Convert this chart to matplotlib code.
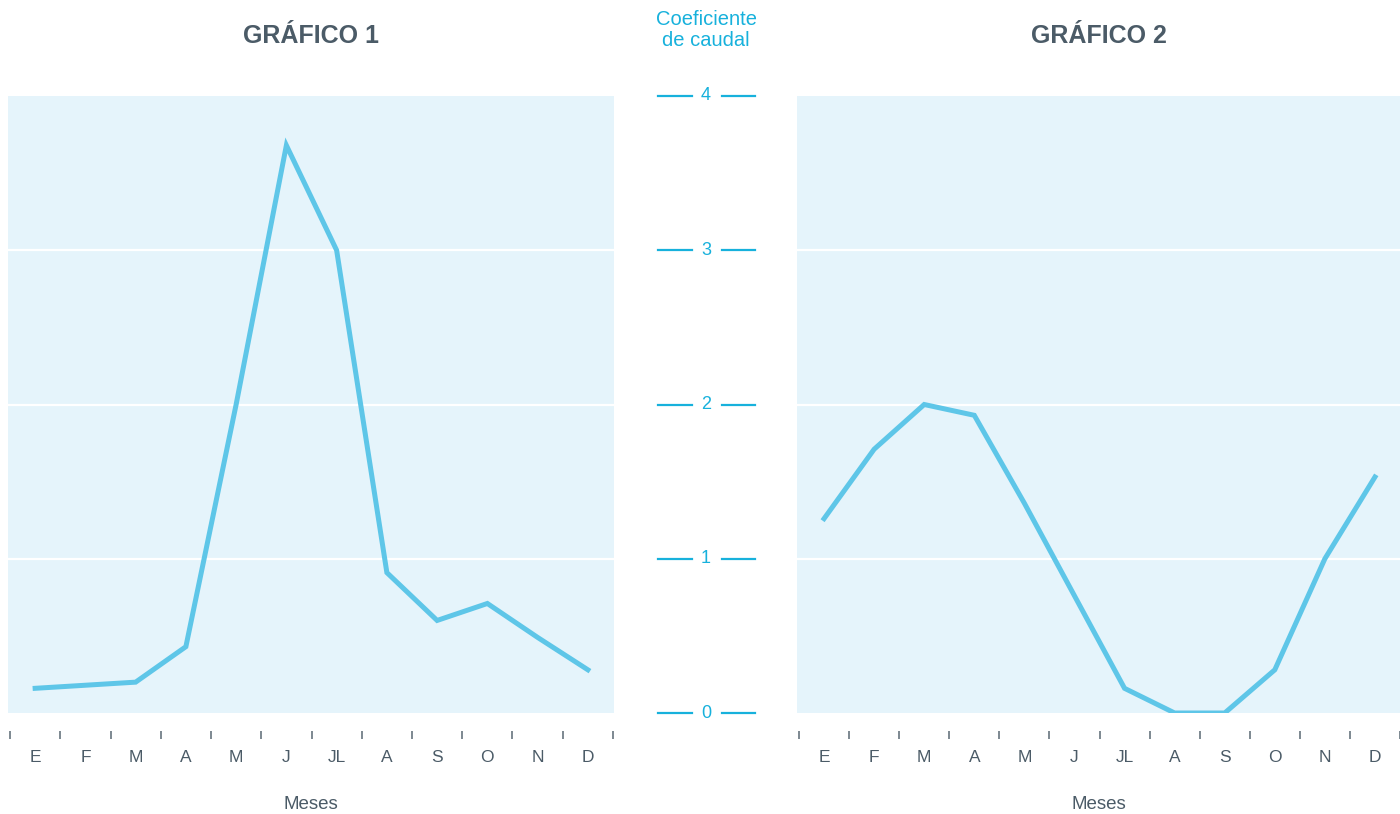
import matplotlib.pyplot as plt
import numpy as np

plt.rcParams['font.family'] = ['Liberation Sans', 'DejaVu Sans']

# datos
meses = ['E', 'F', 'M', 'A', 'M', 'J', 'JL', 'A', 'S', 'O', 'N', 'D']
graf1 = [0.16, 0.18, 0.20, 0.43, 2.0, 3.68, 3.0, 0.91, 0.60, 0.71, 0.49, 0.28]
graf2 = [1.26, 1.71, 2.0, 1.93, 1.36, 0.76, 0.16, 0.0, 0.0, 0.28, 1.0, 1.53]
escala = [0, 1, 2, 3, 4]

fondo = '#e5f4fb'
linea = '#5ec6e8'
cian = '#17b1dc'
gris = '#4b5b67'

fig = plt.figure(figsize=(14, 8.14), dpi=100)

def panel(rect, valores, titulo, xlim):
    ax = fig.add_axes(rect)
    ax.set_facecolor(fondo)
    x = np.arange(len(meses))
    ax.plot(x, valores, color=linea, lw=3.6, solid_joinstyle='miter', zorder=3)
    for v in escala[1:-1]:
        ax.axhline(v, color='white', lw=1.6, zorder=1)
    ax.set_xlim(*xlim)
    ax.set_ylim(0, 4)
    for s in ['top', 'right', 'left']:
        ax.spines[s].set_visible(False)
    ax.spines['bottom'].set_position(('outward', 13))
    ax.spines['bottom'].set_visible(False)
    ax.set_yticks([])
    ax.set_xticks(np.arange(-0.5, 12, 1))
    ax.set_xticklabels([])
    ax.tick_params(axis='x', which='major', length=6, width=1.1, color='#5a6873', direction='out')
    ax.set_xticks(x, minor=True)
    ax.set_xticklabels(meses, minor=True)
    ax.tick_params(axis='x', which='minor', length=0, pad=14, labelsize=12.5, labelcolor=gris)
    ax.set_xlabel('Meses', fontsize=13.5, color=gris, labelpad=22)
    ax.set_title(titulo, fontsize=18, fontweight='bold', color=gris, pad=38.5)
    return ax

panel([8/1400, 1 - 713/814, 606/1400, 617/814], graf1, 'GRÁFICO 1', (-0.54, 11.52))
panel([797/1400, 1 - 713/814, 603/1400, 617/814], graf2, 'GRÁFICO 2', (-0.54, 11.46))

# eje central
axc = fig.add_axes([640/1400, 1 - 713/814, 130/1400, 617/814])
axc.set_xlim(640, 770)
axc.set_ylim(0, 4)
axc.axis('off')
for v in escala:
    axc.plot([658, 692], [v, v], color=cian, lw=1.6, clip_on=False)
    axc.plot([722, 755], [v, v], color=cian, lw=1.6, clip_on=False)
    axc.text(706, v, str(v), color=cian, fontsize=13, ha='center', va='center')
fig.text(706/1400, 1 - 30/814, 'Coeficiente\nde caudal', color=cian, fontsize=14.5,
         ha='center', va='center', linespacing=1.15)

fig.savefig('out.png', dpi=100)
